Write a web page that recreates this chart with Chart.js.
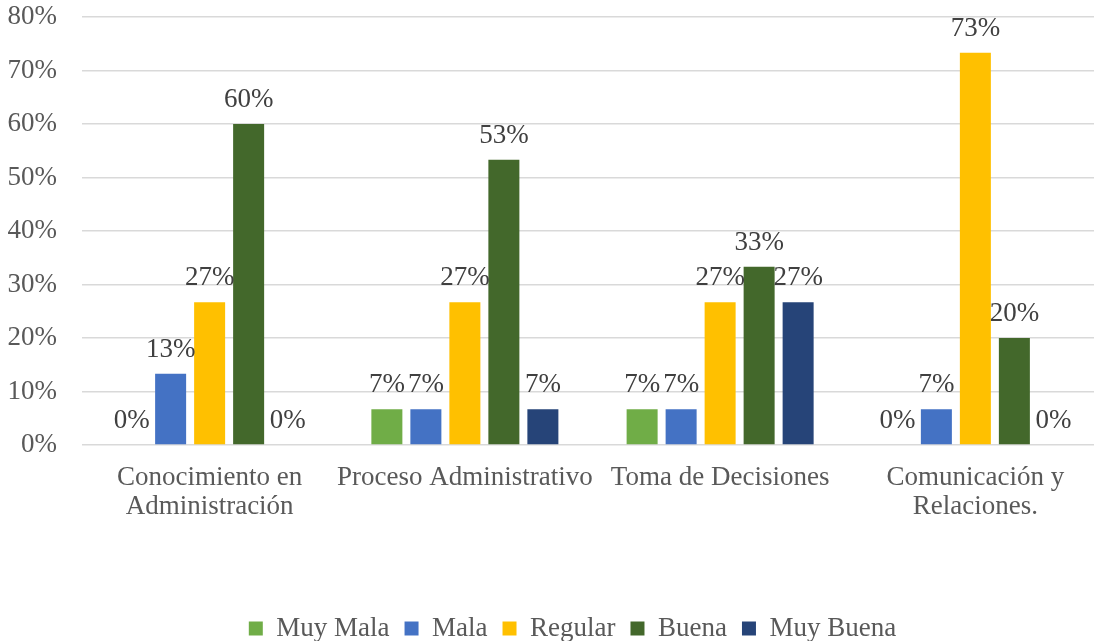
<!DOCTYPE html>
<html>
<head>
<meta charset="utf-8">
<script src="https://cdn.jsdelivr.net/npm/chart.js@4/dist/chart.umd.min.js"></script>
<style>
  html, body { margin: 0; padding: 0; background: #fff; overflow: hidden; }
  #wrap { width: 1103px; height: 641px; position: relative; }
</style>
</head>
<body>
<div id="wrap"><canvas id="c"></canvas></div>
<script>
const categories = [
  ["Conocimiento en", "Administración"],
  "Proceso Administrativo",
  "Toma de Decisiones",
  ["Comunicación y", "Relaciones."]
];
const seriesNames = ["Muy Mala", "Mala", "Regular", "Buena", "Muy Buena"];
const muyMala  = [0, 6.67, 6.67, 0];
const mala     = [13.33, 6.67, 6.67, 6.67];
const regular  = [26.67, 26.67, 26.67, 73.33];
const buena    = [60, 53.33, 33.33, 20];
const muyBuena = [0, 6.67, 26.67, 0];
const yTicks = [0, 10, 20, 30, 40, 50, 60, 70, 80];
const colors = ["#70AD47", "#4472C4", "#FFC000", "#43682B", "#264478"];

const FONT = '"Liberation Serif", "Times New Roman", serif';
const FS = 27;

const valueLabels = {
  id: 'valueLabels',
  afterDatasetsDraw(chart) {
    const ctx = chart.ctx;
    ctx.save();
    ctx.font = FS + 'px ' + FONT;
    ctx.fillStyle = '#404040';
    ctx.textAlign = 'center';
    ctx.textBaseline = 'alphabetic';
    chart.data.datasets.forEach((ds, i) => {
      chart.getDatasetMeta(i).data.forEach((bar, j) => {
        ctx.fillText(Math.round(ds.data[j]) + '%', bar.x, bar.y - 17);
      });
    });
    ctx.restore();
  }
};

const legendShift = {
  id: 'legendShift',
  afterLayout(chart) {
    const lg = chart.legend;
    const dx = 21;
    lg.left += dx; lg.right += dx;
    const targetTop = 600;
    const dy = targetTop - lg.top;
    lg.top += dy; lg.bottom += dy;
  }
};

const allSeries = [muyMala, mala, regular, buena, muyBuena];

new Chart(document.getElementById('c'), {
  type: 'bar',
  data: {
    labels: categories,
    datasets: allSeries.map((d, i) => ({
      label: seriesNames[i],
      data: d,
      backgroundColor: colors[i],
      borderWidth: 0,
      categoryPercentage: 0.764,
      barPercentage: 0.795
    }))
  },
  options: {
    responsive: true,
    maintainAspectRatio: false,
    animation: false,
    layout: { padding: { top: 17, right: 0, bottom: 0, left: 0 } },
    plugins: {
      legend: {
        position: 'bottom',
        labels: {
          font: { family: FONT, size: FS },
          color: '#595959',
          boxWidth: 14,
          boxHeight: 14,
          padding: 15
        }
      },
      tooltip: { enabled: false }
    },
    scales: {
      x: {
        grid: { display: false, drawTicks: false },
        border: { display: false },
        ticks: {
          font: { family: FONT, size: FS, lineHeight: 1.09 },
          color: '#595959',
          padding: 18,
          maxRotation: 0,
          autoSkip: false
        },
        afterFit: (scale) => { scale.height = 144; }
      },
      y: {
        min: 0,
        max: 80,
        afterBuildTicks: (scale) => { scale.ticks = yTicks.map(v => ({ value: v })); },
        grid: { color: '#D9D9D9', lineWidth: 1.5, drawTicks: false },
        border: { display: false },
        ticks: {
          font: { family: FONT, size: FS },
          color: '#595959',
          padding: 25,
          callback: (v) => v + '%'
        },
        afterFit: (scale) => { scale.width = 82; scale.paddingTop = 0; scale.paddingBottom = 0; }
      }
    }
  },
  plugins: [valueLabels, legendShift]
});
</script>
</body>
</html>
